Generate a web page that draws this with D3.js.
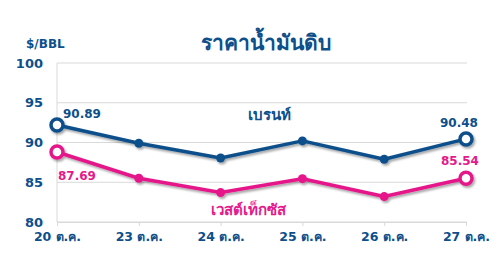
<!DOCTYPE html>
<html>
<head>
<meta charset="utf-8">
<script src="https://cdn.jsdelivr.net/npm/d3@7"></script>
<style>
  body { margin: 0; background: #fff; }
  svg text { font-family: "DejaVu Sans", "Noto Sans", sans-serif; font-weight: bold; }
</style>
</head>
<body>
<div id="chart"></div>
<script>
// data
var days = ["20 ต.ค.", "23 ต.ค.", "24 ต.ค.", "25 ต.ค.", "26 ต.ค.", "27 ต.ค."]
var brent = [92.2, 89.9, 88.05, 90.2, 87.9, 90.45]
var wti = [88.8, 85.5, 83.7, 85.45, 83.2, 85.5]
var brentLabels = ["90.89", "90.48"]
var wtiLabels = ["87.69", "85.54"]
var yTicks = [80, 85, 90, 95, 100]

var blue = "#0d4f8b"
var pink = "#e5198a"

var width = 502, height = 274
var margin = {top: 63, right: 35, bottom: 52, left: 57}
var w = width - margin.left - margin.right,
    h = height - margin.top - margin.bottom

var svg = d3.select("#chart").append("svg")
    .attr("width", width)
    .attr("height", height)

var defs = svg.append("defs")
var shadow = defs.append("filter").attr("id", "shadow")
    .attr("x", "-20%").attr("y", "-20%").attr("width", "140%").attr("height", "160%")
shadow.append("feDropShadow")
    .attr("dx", 1.5).attr("dy", 2)
    .attr("stdDeviation", 1.2)
    .attr("flood-color", "#000")
    .attr("flood-opacity", 0.35)

var g = svg.append("g").attr("transform", "translate(" + margin.left + "," + margin.top + ")")

var x = d3.scalePoint().domain(days).range([0, 409])
var y = d3.scaleLinear().domain([80, 100]).range([h, 0])

// grid
g.selectAll(".grid").data(yTicks).enter().append("line")
    .attr("x1", 0).attr("x2", 410)
    .attr("y1", function(d) { return y(d) }).attr("y2", function(d) { return y(d) })
    .attr("stroke", "#d9d9d9").attr("stroke-width", 1)

g.append("line")
    .attr("x1", 0).attr("x2", 0).attr("y1", 0).attr("y2", h)
    .attr("stroke", "#d9d9d9")

var xAxis = g.append("g")
    .attr("transform", "translate(0," + h + ")")
    .call(d3.axisBottom(x).tickSize(4).tickPadding(6))
xAxis.select(".domain").attr("stroke", "#d9d9d9")
xAxis.selectAll(".tick line").attr("stroke", "#d9d9d9")
xAxis.selectAll("text").attr("fill", blue).style("font-size", "12.5px")

var yAxis = g.append("g")
    .call(d3.axisLeft(y).tickValues(yTicks).tickSize(0).tickPadding(14))
yAxis.select(".domain").remove()
yAxis.selectAll("text").attr("fill", blue).style("font-size", "13px")

svg.append("text")
    .attr("x", 26).attr("y", 48)
    .attr("fill", blue).style("font-size", "12px")
    .text("$/BBL")

svg.append("text")
    .attr("x", 266).attr("y", 50)
    .attr("text-anchor", "middle")
    .attr("fill", blue).style("font-size", "21px")
    .text("ราคาน้ำมันดิบ")

var line = d3.line()
    .x(function(d, i) { return x(days[i]) })
    .y(function(d) { return y(d) })

function drawSeries(values, color) {
    var s = g.append("g").attr("filter", "url(#shadow)")
    s.append("path")
        .datum(values)
        .attr("fill", "none")
        .attr("stroke", color)
        .attr("stroke-width", 3.5)
        .attr("stroke-linejoin", "round")
        .attr("d", line)
    s.selectAll("circle").data(values).enter().append("circle")
        .attr("cx", function(d, i) { return x(days[i]) })
        .attr("cy", function(d) { return y(d) })
        .attr("r", function(d, i) { return (i == 0 || i == values.length - 1) ? 6 : 4.5 })
        .attr("fill", function(d, i) { return (i == 0 || i == values.length - 1) ? "#fff" : color })
        .attr("stroke", color)
        .attr("stroke-width", function(d, i) { return (i == 0 || i == values.length - 1) ? 3.5 : 0 })
}

drawSeries(brent, blue)
drawSeries(wti, pink)

// value labels
g.append("text").attr("x", x(days[0]) + 6).attr("y", y(brent[0]) - 7)
    .attr("fill", blue).style("font-size", "12px").text(brentLabels[0])
g.append("text").attr("x", x(days[5]) - 7).attr("y", y(brent[5]) - 12)
    .attr("text-anchor", "middle")
    .attr("fill", blue).style("font-size", "12px").text(brentLabels[1])
g.append("text").attr("x", x(days[0]) + 1).attr("y", y(wti[0]) + 28)
    .attr("fill", pink).style("font-size", "12px").text(wtiLabels[0])
g.append("text").attr("x", x(days[5]) - 6).attr("y", y(wti[5]) - 13)
    .attr("text-anchor", "middle")
    .attr("fill", pink).style("font-size", "12px").text(wtiLabels[1])

// series names
svg.append("text").attr("x", 269).attr("y", 120)
    .attr("text-anchor", "middle")
    .attr("fill", blue).style("font-size", "15px").text("เบรนท์")
svg.append("text").attr("x", 248).attr("y", 215)
    .attr("text-anchor", "middle")
    .attr("fill", pink).style("font-size", "15px").text("เวสต์เท็กซัส")
</script>
</body>
</html>
